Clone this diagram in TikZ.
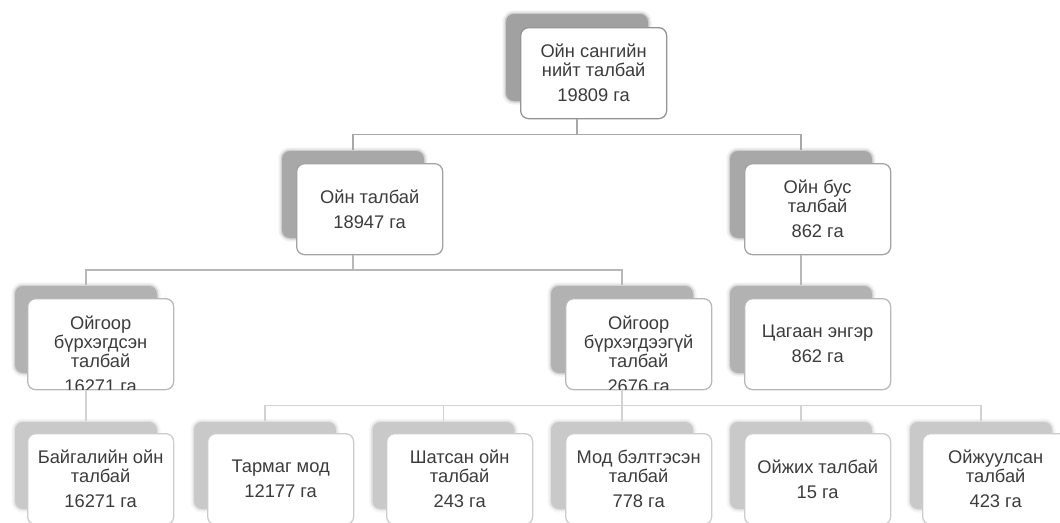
\documentclass[tikz,border=0pt]{standalone}
\usepackage{fontspec}
\setmainfont{Liberation Sans}
\usetikzlibrary{calc}

\definecolor{txtgray}{HTML}{3C3C3C}
\definecolor{lineA}{HTML}{A8A8A8}
\definecolor{lineB}{HTML}{B8B8B8}
\definecolor{lineC}{HTML}{D2D2D2}

\tikzset{
  frontbox/.style={draw=#1, line width=1.3pt, fill=white, rounded corners=8pt,
    minimum width=146pt, minimum height=91pt, inner sep=0pt, anchor=north west,
    align=center, text=txtgray, font=\fontsize{18.3}{19}\selectfont},
  backbox/.style={fill=#1, draw=#1, draw opacity=.45, line width=3pt, rounded corners=8pt,
    minimum width=142pt, minimum height=87pt, inner sep=0pt, anchor=north west,
    preaction={draw=#1, draw opacity=.18, line width=7pt}},
  cliptext/.style={align=center, text=txtgray, font=\fontsize{18.3}{19}\selectfont, inner sep=0pt},
  link/.style={draw=#1, line width=1.6pt},
}

\begin{document}
\begin{tikzpicture}[x=1pt,y=-1pt]
  \useasboundingbox (0,0) rectangle (1060,522);

  % shadows
  \node[backbox=black!37] (total-bg)     at (504.5,12.5) {};
  \node[backbox=black!34] (forest-bg)    at (280.5,149.5) {};
  \node[backbox=black!34] (nonforest-bg) at (728.5,149.5) {};
  \node[backbox=black!30] (covered-bg)   at (13.5,284.5) {};
  \node[backbox=black!30] (uncovered-bg) at (549.5,284.5) {};
  \node[backbox=black!30] (steppe-bg)    at (728.5,284.5) {};
  \node[backbox=black!21] (natural-bg)   at (13.5,420.5) {};
  \node[backbox=black!21] (shrub-bg)     at (192.5,420.5) {};
  \node[backbox=black!21] (burnt-bg)     at (371,420.5) {};
  \node[backbox=black!21] (logged-bg)    at (549.5,420.5) {};
  \node[backbox=black!21] (regrow-bg)    at (728.5,420.5) {};
  \node[backbox=black!21] (planted-bg)   at (908.5,420.5) {};

  % boxes
  \node[frontbox=black!42] (total)     at (520,27)  {Ойн сангийн\\нийт талбай\\[6pt]19809 га};
  \node[frontbox=black!36] (forest)    at (296,163) {Ойн талбай\\[6pt]18947 га};
  \node[frontbox=black!36] (nonforest) at (744,163) {Ойн бус\\талбай\\[6pt]862 га};
  \node[frontbox=black!28] (covered)   at (27,298)  {};
  \node[frontbox=black!28] (uncovered) at (565,298) {};
  \node[frontbox=black!28] (steppe)    at (744,298) {Цагаан энгэр\\[6pt]862 га};
  \node[frontbox=black!20] (natural)   at (27,433)  {Байгалийн ойн\\талбай\\[6pt]16271 га};
  \node[frontbox=black!20] (shrub)     at (207,433) {Тармаг мод\\[6pt]12177 га};
  \node[frontbox=black!20] (burnt)     at (386,433) {Шатсан ойн\\талбай\\[6pt]243 га};
  \node[frontbox=black!20] (logged)    at (565,433) {Мод бэлтгэсэн\\талбай\\[6pt]778 га};
  \node[frontbox=black!20] (regrow)    at (744,433) {Ойжих талбай\\[6pt]15 га};
  \node[frontbox=black!20] (planted)   at (922,433) {Ойжуулсан\\талбай\\[6pt]423 га};

  % overflowing texts, cut at the box
  \begin{scope}
    \clip[rounded corners=8pt] ([shift={(1,-1)}]covered.south west) rectangle ([shift={(-1,1)}]covered.north east);
    \node[cliptext] (covered-txt) at ([yshift=-10pt]covered.center) {Ойгоор\\бүрхэгдсэн\\талбай\\[6pt]16271 га};
  \end{scope}
  \begin{scope}
    \clip[rounded corners=8pt] ([shift={(1,-1)}]uncovered.south west) rectangle ([shift={(-1,1)}]uncovered.north east);
    \node[cliptext] (uncovered-txt) at ([yshift=-10pt]uncovered.center) {Ойгоор\\бүрхэгдээгүй\\талбай\\[6pt]2676 га};
  \end{scope}

  % connectors
  \coordinate (j1) at ($(total.south)!.5!(forest-bg.north)$);
  \coordinate (j2) at ($(forest.south)!.5!(covered-bg.north)$);
  \coordinate (j3) at ($(uncovered.south)!.5!(shrub-bg.north)$);
  \draw[link=lineA] (total.south -| total-bg.center) -- (j1 -| total-bg.center) -| (forest-bg.north);
  \draw[link=lineA] (j1 -| total-bg.center) -| (nonforest-bg.north);
  \draw[link=lineB] (forest.south -| forest-bg.center) -- (j2 -| forest-bg.center) -| (covered-bg.north);
  \draw[link=lineB] (j2 -| forest-bg.center) -| (uncovered-bg.north);
  \draw[link=lineB] (nonforest.south -| nonforest-bg.center) -- (steppe-bg.north);
  \draw[link=lineC] (covered.south -| covered-bg.center) -- (natural-bg.north);
  \draw[link=lineC] (uncovered.south -| uncovered-bg.center) -- (j3 -| uncovered-bg.center) -| (shrub-bg.north);
  \draw[link=lineC] (j3 -| uncovered-bg.center) -| (burnt-bg.north);
  \draw[link=lineC] (j3 -| uncovered-bg.center) -| (logged-bg.north);
  \draw[link=lineC] (j3 -| uncovered-bg.center) -| (regrow-bg.north);
  \draw[link=lineC] (j3 -| uncovered-bg.center) -| (planted-bg.north);
\end{tikzpicture}
\end{document}
